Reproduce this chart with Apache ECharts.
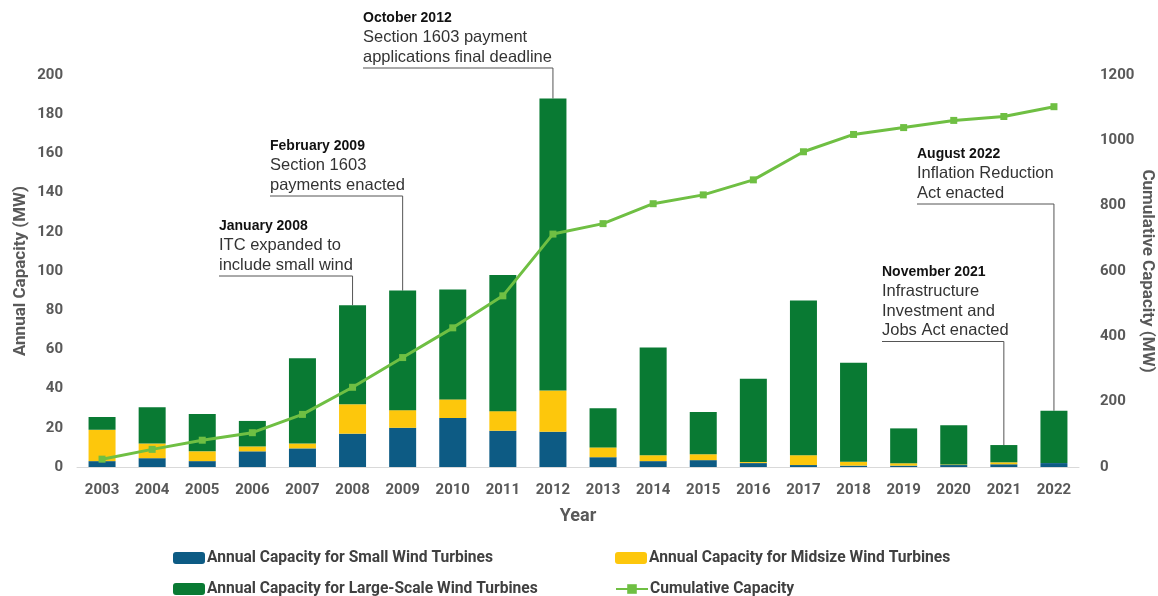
<!DOCTYPE html>
<html>
<head>
<meta charset="utf-8">
<script src="https://cdn.jsdelivr.net/npm/echarts@6.0.0/dist/echarts.min.js"></script>
<style>
  html, body { margin: 0; padding: 0; background: #fff; }
  #windChart { width: 1158px; height: 596px; }
</style>
</head>
<body>
<div id="windChart"></div>
<script>
var years = ['2003', '2004', '2005', '2006', '2007', '2008', '2009', '2010', '2011', '2012',
  '2013', '2014', '2015', '2016', '2017', '2018', '2019', '2020', '2021', '2022'];
var smallWind = [3, 4.5, 3, 8, 9.5, 17, 20, 25, 18.5, 18, 5, 3, 3.5, 2, 1, 0.7, 0.7, 1, 1.4, 2];
var midWind = [16, 7.5, 5, 2.5, 2.5, 15, 9, 9.5, 10, 21, 5, 3, 3, 0.5, 5, 2, 1.2, 0.3, 1, 0];
var largeWind = [6.5, 18.5, 19, 13, 43.5, 50.5, 61, 56, 69.5, 149, 20, 55, 21.5, 42.5, 79, 50.5, 17.8, 20, 8.8, 26.7];
var cumulative = [24, 54, 82, 105, 161, 244, 335, 426, 524, 713, 745, 806, 833, 879, 965, 1018, 1039, 1061, 1073, 1103];

var seriesNames = [
  'Annual Capacity for Small Wind Turbines',
  'Annual Capacity for Midsize Wind Turbines',
  'Annual Capacity for Large-Scale Wind Turbines',
  'Cumulative Capacity'
];

// policy notes: which bar they point at, text, where the text block sits
var notes = [
  { year: '2008', title: 'January 2008', lines: ['ITC expanded to', 'include small wind'], x: 219, y: 226 },
  { year: '2009', title: 'February 2009', lines: ['Section 1603', 'payments enacted'], x: 270, y: 146 },
  { year: '2012', title: 'October 2012', lines: ['Section 1603 payment', 'applications final deadline'], x: 363, y: 18 },
  { year: '2021', title: 'November 2021', lines: ['Infrastructure', 'Investment and', 'Jobs Act enacted'], x: 882, y: 272 },
  { year: '2022', title: 'August 2022', lines: ['Inflation Reduction', 'Act enacted'], x: 917, y: 154 }
];

var boldFont = 'Roboto, sans-serif';
var noteFont = "'Liberation Sans', Arial, sans-serif";
var axisGrey = '#595959';

var chart = echarts.init(document.getElementById('windChart'));

function legendAt(name, left, top) {
  return {
    data: [name],
    left: left,
    top: top,
    itemWidth: 32,
    itemHeight: 12,
    itemGap: 2,
    textStyle: { fontFamily: boldFont, fontWeight: 'bold', fontSize: 15.6, color: '#404040', padding: [0, 0, 0, -3] }
  };
}

var option = {
  animation: false,
  color: ['#0d5b84', '#fdc70c', '#097a33', '#6fbf43'],
  grid: { left: 77, right: 79, top: 75, bottom: 129, outerBoundsMode: 'none' },
  legend: [
    legendAt(seriesNames[0], 168, 545),
    legendAt(seriesNames[1], 610, 545),
    legendAt(seriesNames[2], 168, 576),
    legendAt(seriesNames[3], 610, 576)
  ],
  xAxis: {
    type: 'category',
    data: years,
    name: 'Year',
    nameLocation: 'middle',
    nameGap: 40,
    nameMoveOverlap: false,
    nameTextStyle: { fontFamily: boldFont, fontWeight: 'bold', fontSize: 18, color: axisGrey },
    axisTick: { show: false },
    axisLine: { lineStyle: { color: '#d9d9d9' } },
    axisLabel: { interval: 0, margin: 16, fontFamily: boldFont, fontWeight: 'bold', fontSize: 15, color: axisGrey }
  },
  yAxis: [
    {
      type: 'value',
      min: 0,
      max: 200,
      interval: 20,
      name: 'Annual Capacity (MW)',
      nameLocation: 'middle',
      nameGap: 48,
      nameMoveOverlap: false,
      nameTextStyle: { fontFamily: boldFont, fontWeight: 'bold', fontSize: 17, color: axisGrey },
      splitLine: { show: false },
      axisLabel: { margin: 14, fontFamily: boldFont, fontWeight: 'bold', fontSize: 15, color: axisGrey }
    },
    {
      type: 'value',
      min: 0,
      max: 1200,
      interval: 200,
      name: 'Cumulative Capacity (MW)',
      nameLocation: 'middle',
      nameRotate: -90,
      nameGap: 60,
      nameMoveOverlap: false,
      nameTextStyle: { fontFamily: boldFont, fontWeight: 'bold', fontSize: 17, color: axisGrey },
      splitLine: { show: false },
      axisLabel: {
        margin: 21,
        fontFamily: boldFont,
        fontWeight: 'bold',
        fontSize: 15,
        color: axisGrey,
        formatter: function (v) { return String(v); }
      }
    }
  ],
  series: [
    { name: seriesNames[0], type: 'bar', stack: 'wind', barWidth: 27, data: smallWind },
    { name: seriesNames[1], type: 'bar', stack: 'wind', barWidth: 27, data: midWind },
    { name: seriesNames[2], type: 'bar', stack: 'wind', barWidth: 27, data: largeWind },
    {
      name: seriesNames[3],
      type: 'line',
      yAxisIndex: 1,
      symbol: 'rect',
      symbolSize: 7,
      lineStyle: { width: 3 },
      data: cumulative
    }
  ]
};
chart.setOption(option);

// draw the note texts and their leader lines down to the bar tops
var graphics = [];
notes.forEach(function (note) {
  var i = years.indexOf(note.year);
  var total = smallWind[i] + midWind[i] + largeWind[i];
  var top = chart.convertToPixel({ xAxisIndex: 0, yAxisIndex: 0 }, [note.year, total]);
  graphics.push({
    type: 'text',
    x: note.x,
    y: note.y,
    style: { text: note.title, font: 'bold 14px ' + noteFont, fill: '#111', verticalAlign: 'middle' }
  });
  note.lines.forEach(function (line, k) {
    graphics.push({
      type: 'text',
      x: note.x,
      y: note.y + 19.5 * (k + 1),
      style: { text: line, font: '16.5px ' + noteFont, fill: '#333', verticalAlign: 'middle' }
    });
  });
  var lineY = note.y + 19.5 * note.lines.length + 11;
  graphics.push({
    type: 'polyline',
    shape: { points: [[note.x, lineY], [top[0], lineY], [top[0], top[1]]] },
    style: { stroke: '#555', lineWidth: 1, fill: null }
  });
});
chart.setOption({ graphic: graphics });
</script>
</body>
</html>
